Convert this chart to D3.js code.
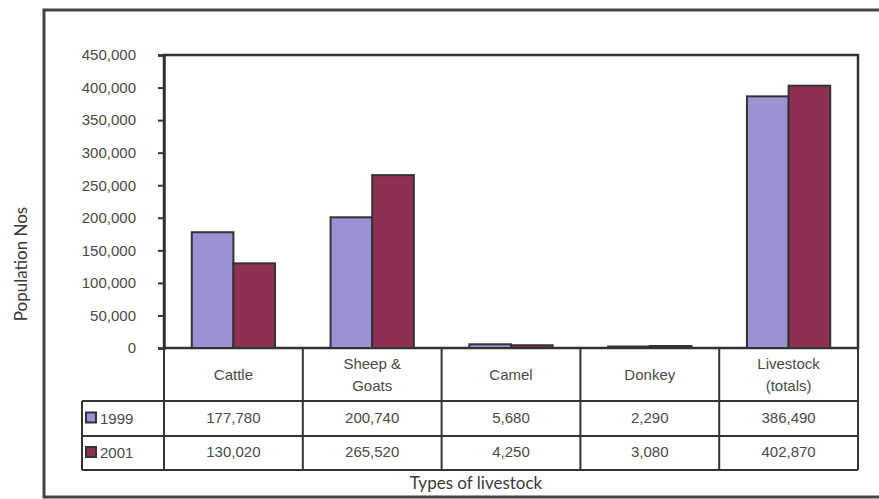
<!DOCTYPE html>
<html>
<head>
<meta charset="utf-8">
<script src="https://cdn.jsdelivr.net/npm/d3@7"></script>
<style>
  body { margin: 0; background: #fff; }
  svg text { font-family: "Liberation Sans", Arial, sans-serif; fill: #4a4a4a; }
  .title { font-family: Lato, "Open Sans", sans-serif; fill: #3a3a3a; }
</style>
</head>
<body>
<div id="chart"></div>
<script>
// chart data
const categories = ["Cattle", "Sheep & Goats", "Camel", "Donkey", "Livestock (totals)"];
const categoryLines = [["Cattle"], ["Sheep &", "Goats"], ["Camel"], ["Donkey"], ["Livestock", "(totals)"]];
const seriesNames = ["1999", "2001"];
const values1999 = [177780, 200740, 5680, 2290, 386490];
const values2001 = [130020, 265520, 4250, 3080, 402870];
const yTicks = [0, 50000, 100000, 150000, 200000, 250000, 300000, 350000, 400000, 450000];

const colors = ["#9a92d2", "#8e3053"];
const series = [values1999, values2001];

const width = 879, height = 499;
const plot = { left: 164, right: 858, top: 55, bottom: 348 };
const rowH = [53, 35, 34];
const fontSize = 15;

const svg = d3.select("#chart")
              .append("svg")
              .attr("width", width)
              .attr("height", height);

// outer frame
svg.append("rect")
   .attr("x", 44).attr("y", 10)
   .attr("width", 860).attr("height", 487)
   .attr("fill", "none")
   .attr("stroke", "#444")
   .attr("stroke-width", 3);

const x0 = d3.scaleBand()
             .domain(categories)
             .range([plot.left, plot.right])
             .paddingInner(0.4)
             .paddingOuter(0.2);

const x1 = d3.scaleBand()
             .domain(seriesNames)
             .range([0, x0.bandwidth()]);

const y = d3.scaleLinear()
            .domain([0, 450000])
            .range([plot.bottom, plot.top]);

// plot area border
svg.append("rect")
   .attr("x", plot.left).attr("y", plot.top)
   .attr("width", plot.right - plot.left)
   .attr("height", plot.bottom - plot.top)
   .attr("fill", "none")
   .attr("stroke", "#333")
   .attr("stroke-width", 2.5);

// bars
const groups = svg.append("g")
                  .selectAll("g.cat")
                  .data(categories)
                  .enter()
                  .append("g")
                  .attr("class", "cat")
                  .attr("transform", d => `translate(${x0(d)},0)`);

groups.selectAll("rect")
      .data((d, i) => seriesNames.map((s, j) => ({ s, v: series[j][i] })))
      .enter()
      .append("rect")
      .attr("x", d => x1(d.s))
      .attr("y", d => y(d.v))
      .attr("width", x1.bandwidth())
      .attr("height", d => y(0) - y(d.v))
      .attr("fill", (d, j) => colors[j])
      .attr("stroke", "#333")
      .attr("stroke-width", 2);

// y axis
const yAxis = svg.append("g")
                 .attr("transform", `translate(${plot.left},0)`)
                 .call(d3.axisLeft(y)
                         .tickValues(yTicks)
                         .tickSize(6)
                         .tickPadding(22)
                         .tickFormat(d3.format(",")));
yAxis.select(".domain").attr("stroke", "#333").attr("stroke-width", 2.5);
yAxis.selectAll(".tick line").attr("stroke", "#333").attr("stroke-width", 2);
yAxis.selectAll(".tick text")
     .attr("font-size", fontSize)
     .style("fill", "#4a4a4a");

// data table
const table = svg.append("g")
                 .attr("stroke", "#333")
                 .attr("stroke-width", 2)
                 .attr("fill", "none");
const rowTop = [plot.bottom, plot.bottom + rowH[0], plot.bottom + rowH[0] + rowH[1]];
const tableBottom = rowTop[2] + rowH[2];
const colEdges = categories.map(c => x0(c) - x0.step() * x0.paddingInner() / 2);
colEdges.push(plot.right);

colEdges.forEach(xe => {
    table.append("line")
         .attr("x1", xe).attr("x2", xe)
         .attr("y1", plot.bottom).attr("y2", tableBottom);
});
const legendLeft = 82;
table.append("line")
     .attr("x1", legendLeft).attr("x2", legendLeft)
     .attr("y1", rowTop[1]).attr("y2", tableBottom);
[rowTop[1], rowTop[2], tableBottom].forEach(yy => {
    table.append("line")
         .attr("x1", legendLeft).attr("x2", plot.right)
         .attr("y1", yy).attr("y2", yy);
});

// header labels
categories.forEach((c, i) => {
    const cx = x0(c) + x0.bandwidth() / 2;
    const lines = categoryLines[i];
    const cy = plot.bottom + rowH[0] / 2;
    const t = svg.append("text")
                 .attr("text-anchor", "middle")
                 .attr("font-size", fontSize);
    lines.forEach((l, k) => {
        t.append("tspan")
         .attr("x", cx)
         .attr("y", cy + 5 + (k - (lines.length - 1) / 2) * 22)
         .text(l);
    });
});

// value rows with legend keys
seriesNames.forEach((s, j) => {
    const cy = rowTop[j + 1] + rowH[j + 1] / 2;
    svg.append("rect")
       .attr("x", legendLeft + 4).attr("y", cy - 6)
       .attr("width", 10).attr("height", 10)
       .attr("fill", colors[j])
       .attr("stroke", "#333")
       .attr("stroke-width", 2);
    svg.append("text")
       .attr("x", legendLeft + 18)
       .attr("y", cy + 5)
       .attr("font-size", fontSize)
       .text(s);
    categories.forEach((c, i) => {
        svg.append("text")
           .attr("x", x0(c) + x0.bandwidth() / 2)
           .attr("y", cy + 4)
           .attr("text-anchor", "middle")
           .attr("font-size", fontSize)
           .text(d3.format(",")(series[j][i]));
    });
});

// axis titles
svg.append("text")
   .attr("class", "title")
   .attr("transform", "translate(27,264) rotate(-90)")
   .attr("text-anchor", "middle")
   .attr("font-size", 17)
   .text("Population Nos");

svg.append("text")
   .attr("class", "title")
   .attr("x", 476)
   .attr("y", 489)
   .attr("text-anchor", "middle")
   .attr("font-size", 17)
   .text("Types of livestock");
</script>
</body>
</html>
